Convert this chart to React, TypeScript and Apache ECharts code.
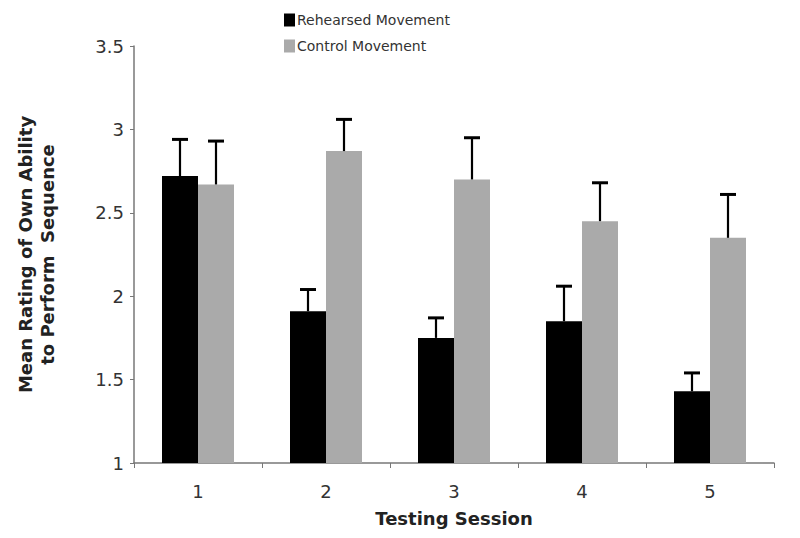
import React, { useEffect, useRef } from "react";
import * as echarts from "echarts";

const categories = ["1", "2", "3", "4", "5"];
const rehearsed = [2.72, 1.91, 1.75, 1.85, 1.43];
const rehearsedErr = [0.22, 0.13, 0.12, 0.21, 0.11];
const control = [2.67, 2.87, 2.7, 2.45, 2.35];
const controlErr = [0.26, 0.19, 0.25, 0.23, 0.26];
const seriesNames = ["Rehearsed Movement", "Control Movement"];
const FONT = "DejaVu Sans, Verdana, sans-serif";

export default function App() {
  const ref = useRef<HTMLDivElement>(null);
  useEffect(() => {
    if (!ref.current) return;
    const chart = echarts.init(ref.current, null, { renderer: "svg" });
    const catGap = 0.4375;
    const makeErr = (vals: number[], errs: number[], side: number) => ({
      type: "custom",
      silent: true,
      z: 5,
      data: vals.map((v, i) => [i, v, errs[i]]),
      renderItem: (params: any, api: any) => {
        const idx = api.value(0);
        const v = api.value(1);
        const e = api.value(2);
        const band = api.size([1, 0])[0];
        const off = side * band * (1 - catGap) / 4;
        const base = api.coord([idx, v]);
        const top = api.coord([idx, v + e]);
        const x = base[0] + off;
        const cap = 8;
        return {
          type: "group",
          children: [
            { type: "line", shape: { x1: x, y1: base[1], x2: x, y2: top[1] }, style: { stroke: "#000", lineWidth: 2.2 } },
            { type: "line", shape: { x1: x - cap, y1: top[1], x2: x + cap, y2: top[1] }, style: { stroke: "#000", lineWidth: 3 } },
          ],
        };
      },
    });
    chart.setOption({
      animation: false,
      backgroundColor: "#fff",
      textStyle: { fontFamily: FONT },
      legend: {
        orient: "vertical",
        left: 279,
        top: 8,
        itemWidth: 11,
        itemHeight: 13,
        itemGap: 12,
        icon: "rect",
        data: seriesNames,
        textStyle: { fontFamily: FONT, fontSize: 14, color: "#333", padding: [0, 0, 0, -3] },
      },
      grid: { left: 134, right: 26, top: 46, bottom: 75 },
      xAxis: {
        type: "category",
        data: categories,
        name: "Testing Session",
        nameLocation: "middle",
        nameGap: 46,
        nameTextStyle: { fontFamily: FONT, fontSize: 18, fontWeight: "bold", color: "#222" },
        axisLine: { lineStyle: { color: "#777", width: 1.5 } },
        axisTick: { show: true, length: 5, lineStyle: { color: "#777" } },
        axisLabel: { fontFamily: FONT, fontSize: 18, color: "#333", margin: 19 },
      },
      yAxis: {
        type: "value",
        min: 1,
        max: 3.5,
        interval: 0.5,
        name: "Mean Rating of Own Ability\nto Perform  Sequence",
        nameLocation: "middle",
        nameRotate: 90,
        nameGap: 76,
        nameTextStyle: { fontFamily: FONT, fontSize: 18, fontWeight: "bold", color: "#222", lineHeight: 22 },
        splitLine: { show: false },
        axisLine: { show: true, lineStyle: { color: "#777", width: 1.5 } },
        axisTick: { show: true, length: 4, lineStyle: { color: "#777" } },
        axisLabel: { fontFamily: FONT, fontSize: 18, color: "#333", margin: 10 },
      },
      series: [
        {
          name: seriesNames[0],
          type: "bar",
          data: rehearsed,
          barGap: "0%",
          barCategoryGap: "43.75%",
          itemStyle: { color: "#000" },
        },
        {
          name: seriesNames[1],
          type: "bar",
          data: control,
          barGap: "0%",
          barCategoryGap: "43.75%",
          itemStyle: { color: "#aaaaaa" },
        },
        makeErr(rehearsed, rehearsedErr, -1),
        makeErr(control, controlErr, 1),
      ],
    });
    return () => chart.dispose();
  }, []);
  return <div ref={ref} style={{ width: 800, height: 538, position: "absolute", left: 0, top: 0 }} />;
}
